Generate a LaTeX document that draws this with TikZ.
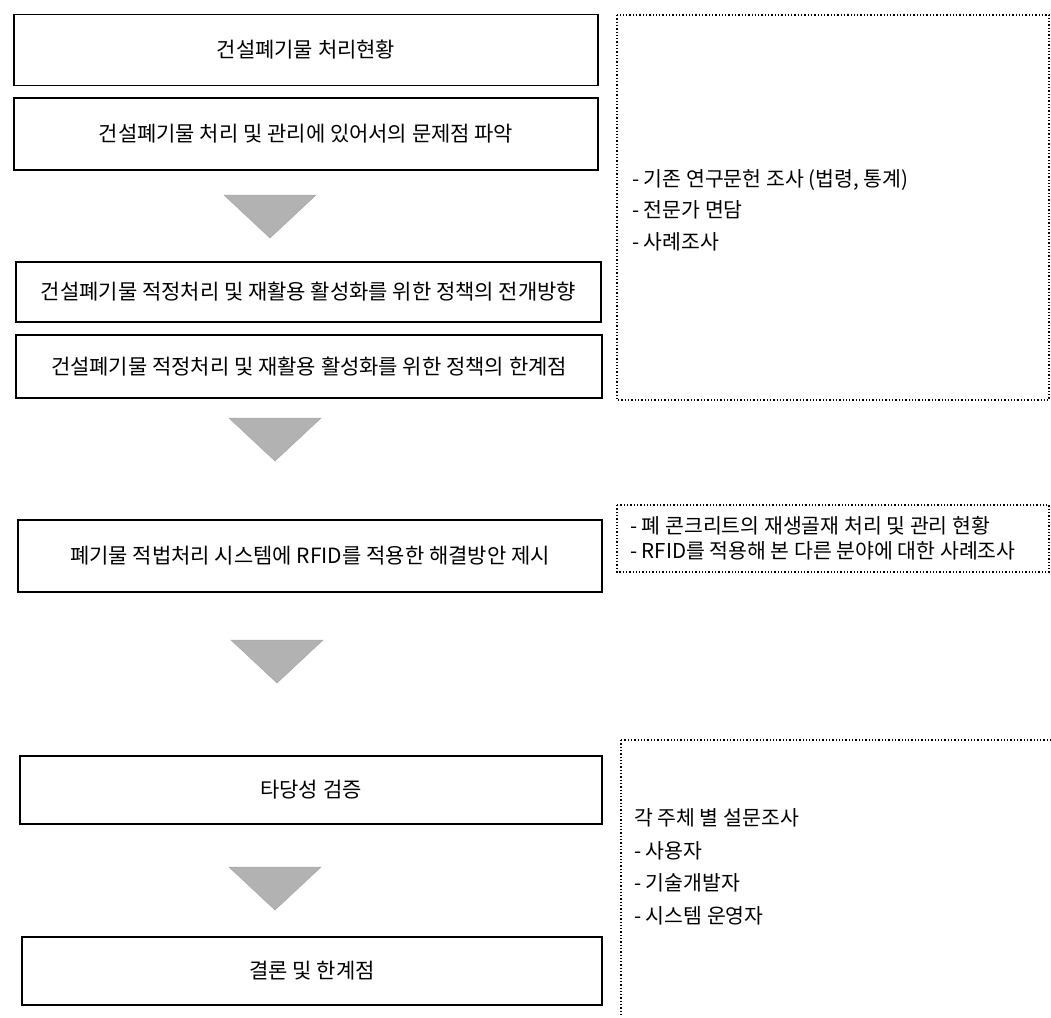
\documentclass[tikz,border=0pt]{standalone}
\usepackage{fontspec}
\setmainfont{Noto Sans CJK KR}
\usetikzlibrary{calc,shapes.geometric}
\begin{document}
\begin{tikzpicture}[x=1pt,y=-1pt,
  stepbox/.style={draw=black,line width=1.4pt,inner sep=0pt,font=\fontsize{21}{24}\selectfont},
  notebox/.style={draw=black,dotted,line width=1.3pt},
  notetext/.style={anchor=west,inner sep=0pt,font=\fontsize{20.5}{31.5}\selectfont,align=left},
  tri/.style={fill=gray!60,draw=gray!70,line width=0.5pt}]
\useasboundingbox (0,0) rectangle (1051,1017);
% left boxes
\node[stepbox,minimum width=584pt,minimum height=71pt] (b1) at (306,50) {건설폐기물 처리현황};
\node[stepbox,minimum width=584pt,minimum height=72pt] (b2) at (306,134) {건설폐기물 처리 및 관리에 있어서의 문제점 파악};
\node[stepbox,minimum width=585pt,minimum height=60pt] (b3) at (308.5,292) {건설폐기물 적정처리 및 재활용 활성화를 위한 정책의 전개방향};
\node[stepbox,minimum width=586pt,minimum height=63pt] (b4) at (309,366.5) {건설폐기물 적정처리 및 재활용 활성화를 위한 정책의 한계점};
\node[stepbox,minimum width=584pt,minimum height=72pt] (b5) at (310,556) {폐기물 적법처리 시스템에 RFID를 적용한 해결방안 제시};
\node[stepbox,minimum width=582pt,minimum height=68pt] (b6) at (311,790) {타당성 검증};
\node[stepbox,minimum width=580pt,minimum height=68pt] (b7) at (312,971) {결론 및 한계점};
% down triangles
\coordinate (t1) at (270,195);
\coordinate (t2) at (275,418);
\coordinate (t3) at (277,640);
\coordinate (t4) at (275,867);
\foreach \t in {t1,t2,t3,t4}{
  \draw[tri] ($(\t)+(-46,0)$) -- ($(\t)+(46,0)$) -- ($(\t)+(0,43)$) -- cycle;
}
% dotted note boxes
\draw[notebox] (617,15) rectangle (1049,400);
\draw[notebox] (617,505) rectangle (1049,572);
\draw[notebox] (621,740) -- (1051,740) (621,740) -- (621,1017);
\node[notetext] (n1) at (632,210) {- 기존 연구문헌 조사 (법령, 통계)\\- 전문가 면담\\- 사례조사};
\node[notetext,font=\fontsize{20.5}{25}\selectfont] (n2) at (630,538) {- 폐 콘크리트의 재생골재 처리 및 관리 현황\\- RFID를 적용해 본 다른 분야에 대한 사례조사};
\node[notetext,font=\fontsize{20.5}{32.5}\selectfont] (n3) at (634,867) {각 주체 별 설문조사\\- 사용자\\- 기술개발자\\- 시스템 운영자};
\end{tikzpicture}
\end{document}
